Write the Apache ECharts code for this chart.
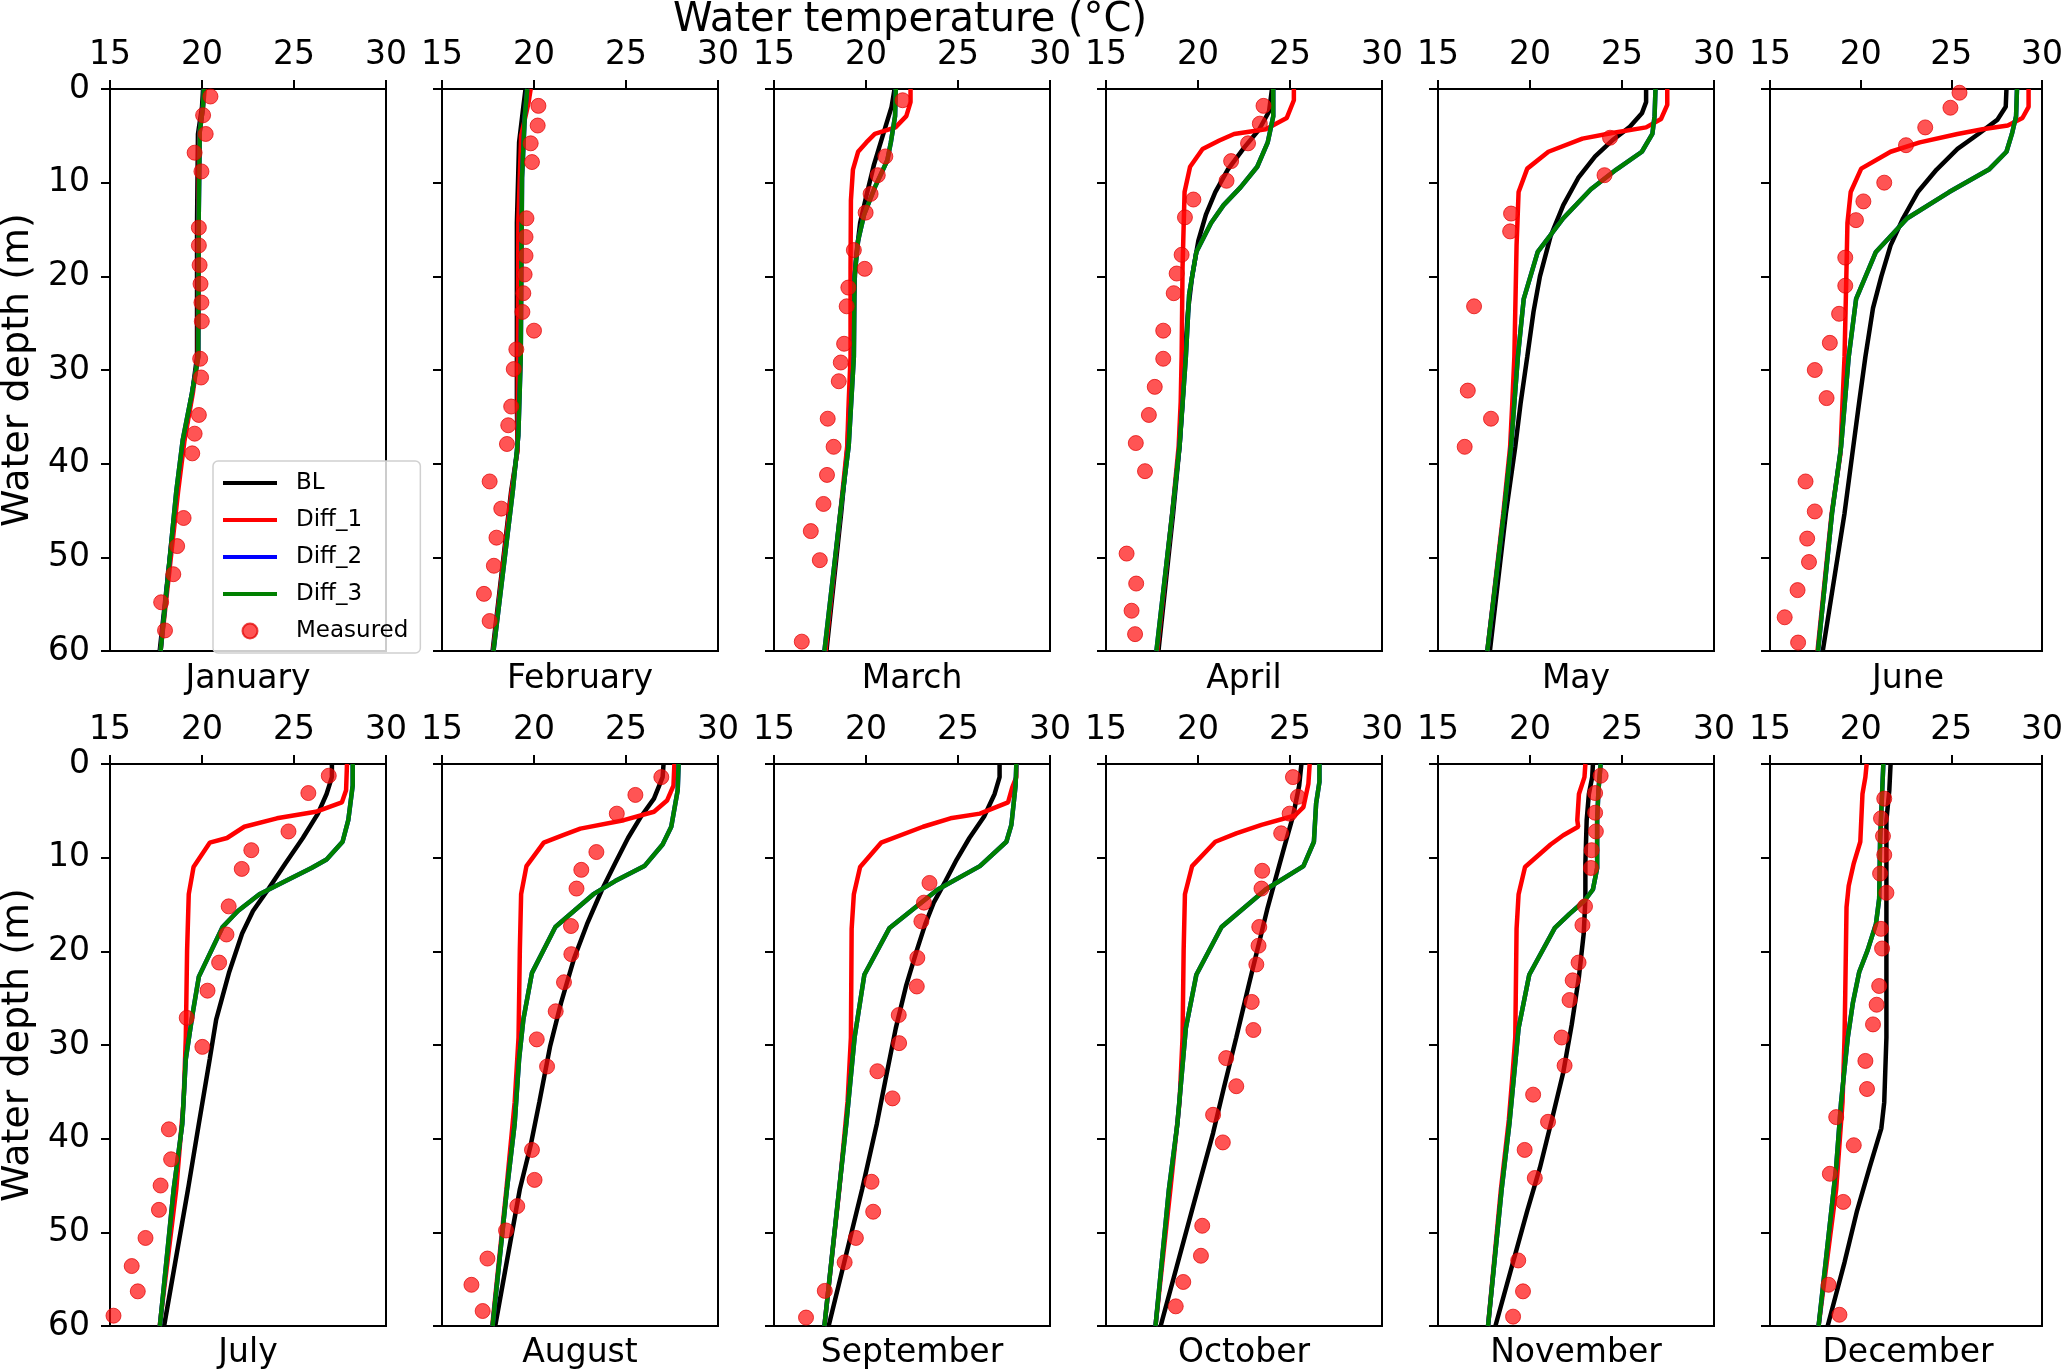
<!DOCTYPE html>
<html>
<head>
<meta charset="utf-8">
<script src="https://cdn.jsdelivr.net/npm/echarts@6/dist/echarts.min.js"></script>
<style>
html, body { margin: 0; padding: 0; background: #fff; }
#main { width: 2066px; height: 1370px; }
</style>
</head>
<body>
<div id="main"></div>
<script>
// each point is [temperature (C), depth (m)]
var monthNames = ['January', 'February', 'March', 'April', 'May', 'June',
    'July', 'August', 'September', 'October', 'November', 'December'];
var seriesNames = ['BL', 'Diff_1', 'Diff_2', 'Diff_3', 'Measured'];
var tempTicks = [15, 20, 25, 30];
var depthTicks = [0, 10, 20, 30, 40, 50, 60];

var janBL = [[20.06,0],[20.0,1.9],[19.78,4.8],[19.73,14.3],[19.73,28.6],[19.47,32.4],[19.0,37.7],[18.65,42.9],[17.7,60]];
var janD1 = [[20.15,0],[20.05,2],[19.85,5],[19.8,14],[19.78,28.5],[19.5,32.5],[19.05,37.5],[18.7,43],[17.75,60]];
var janD3 = [[20.1,0],[20.05,2],[19.88,4.5],[19.82,14],[19.8,28.6],[19.45,32.5],[18.95,37.5],[18.6,43],[17.75,60]];
var janObs = [[20.46,0.8],[20.06,2.8],[20.2,4.8],[19.6,6.8],[19.97,8.8],[19.83,14.8],[19.83,16.7],[19.87,18.8],[19.92,20.8],[19.97,22.8],[19.99,24.8],[19.9,28.8],[19.95,30.8],[19.83,34.8],[19.6,36.8],[19.47,38.9],[19.0,45.8],[18.65,48.8],[18.44,51.8],[17.78,54.8],[17.99,57.8]];

var febBL = [[19.54,0],[19.42,1.9],[19.19,5.7],[19.07,14.3],[19.07,33.4],[19.1,38.6],[18.76,42.9],[17.75,60]];
var febD1 = [[19.82,0],[19.7,1.5],[19.3,5],[19.15,14],[19.12,33],[19.1,38.6],[18.78,43],[17.78,60]];
var febD3 = [[19.63,0],[19.5,2.9],[19.35,9.5],[19.28,28.6],[19.15,37],[18.85,42.9],[17.8,60]];
var febObs = [[20.24,1.8],[20.2,3.9],[19.82,5.8],[19.89,7.8],[19.59,13.8],[19.54,15.8],[19.54,17.8],[19.49,19.8],[19.42,21.8],[19.37,23.8],[20.0,25.8],[19.04,27.8],[18.9,29.9],[18.76,33.9],[18.6,35.9],[18.53,37.9],[17.59,41.9],[18.22,44.8],[17.96,47.9],[17.82,50.9],[17.28,53.9],[17.59,56.8]];

var marBL = [[21.55,0],[21.39,1.9],[20.94,4.8],[20.43,8.1],[20.02,11.4],[19.68,14.3],[19.45,18.1],[19.29,23.8],[19.22,28.6],[19.1,33.4],[19.0,38.1],[18.65,45.3],[17.85,60]];
var marD1 = [[22.42,0],[22.42,1.4],[22.19,2.9],[21.6,4.1],[20.48,4.8],[20.02,5.7],[19.57,6.7],[19.29,8.6],[19.18,11.9],[19.16,19.1],[19.16,28.6],[19.06,33.4],[18.98,38.1],[18.6,45.3],[17.8,60]];
var marD3 = [[21.62,0],[21.58,2.9],[21.35,5.7],[21.16,7.6],[20.48,10.5],[19.9,13.4],[19.57,16.2],[19.38,20.0],[19.34,28.6],[19.06,38.1],[18.6,45.3],[17.74,60]];
var marObs = [[21.99,1.2],[21.05,7.2],[20.64,9.2],[20.25,11.2],[19.98,13.2],[19.34,17.2],[19.93,19.2],[19.04,21.2],[18.95,23.2],[18.81,27.2],[18.63,29.2],[18.52,31.2],[17.92,35.2],[18.24,38.2],[17.88,41.2],[17.69,44.3],[17.0,47.2],[17.49,50.3],[16.51,59.0]];

var aprBL = [[24.02,0],[23.86,2.4],[23.33,4.3],[22.53,6.2],[21.62,8.6],[20.94,11.0],[20.43,13.4],[20.02,16.2],[19.68,20.0],[19.45,23.8],[19.29,28.6],[19.16,33.4],[19.0,38.1],[18.65,45.3],[17.85,60]];
var aprD1 = [[25.21,0],[25.21,1.2],[24.82,3.1],[23.68,4.3],[21.96,4.8],[21.16,5.5],[20.25,6.4],[19.57,8.3],[19.27,11.0],[19.16,19.1],[19.11,28.6],[19.06,33.4],[18.95,38.1],[18.6,45.3],[17.78,60]];
var aprD3 = [[24.09,0],[24.09,2.9],[23.79,5.7],[23.22,8.3],[22.31,10.5],[21.39,12.4],[20.71,14.3],[19.91,17.4],[19.52,21.9],[19.34,28.6],[19.0,38.1],[18.6,45.3],[17.74,60]];
var aprObs = [[23.56,1.8],[23.36,3.7],[22.72,5.8],[21.8,7.7],[21.55,9.8],[19.75,11.8],[19.29,13.7],[19.11,17.7],[18.84,19.7],[18.68,21.8],[18.11,25.8],[18.11,28.8],[17.65,31.8],[17.33,34.8],[16.62,37.8],[17.12,40.8],[16.12,49.6],[16.64,52.8],[16.39,55.7],[16.58,58.2]];

var mayBL = [[26.31,0],[26.31,1.4],[26.08,2.6],[25.39,4.1],[24.46,5.5],[23.54,7.2],[22.62,9.5],[21.81,12.4],[21.12,15.7],[20.54,20.0],[20.19,23.8],[19.85,28.6],[19.5,33.4],[19.2,38.2],[18.69,45.3],[17.82,60]];
var mayD1 = [[27.46,0],[27.46,1.7],[27.12,3.2],[26.31,4.1],[24.46,4.7],[22.85,5.3],[21.0,6.7],[19.85,8.5],[19.38,11.0],[19.27,16.7],[19.15,28.6],[19.04,33.4],[18.92,38.2],[18.55,45.3],[17.68,60]];
var mayD3 = [[26.82,0],[26.77,2.9],[26.65,4.8],[26.08,6.7],[24.69,8.6],[23.31,10.7],[21.81,13.8],[20.42,17.4],[19.66,22.4],[19.34,28.6],[18.97,38.2],[18.58,45.3],[17.68,60]];
var mayObs = [[24.35,5.2],[24.05,9.2],[18.97,13.3],[18.92,15.2],[16.96,23.2],[16.62,32.2],[17.88,35.2],[16.45,38.2]];

var junBL = [[28.04,0],[28.0,1.9],[27.53,3.3],[26.49,4.8],[25.34,6.4],[24.19,8.6],[23.15,11.0],[22.34,13.8],[21.65,16.7],[21.14,20.0],[20.68,23.4],[20.26,28.6],[19.92,33.4],[19.53,39.1],[19.11,45.3],[17.91,60]];
var junD1 = [[29.26,0],[29.26,1.9],[28.92,3.1],[28.11,3.9],[26.72,4.3],[25.34,4.8],[23.26,5.7],[21.65,6.7],[20.03,8.5],[19.45,11.0],[19.27,14.3],[19.22,19.1],[19.11,28.6],[19.0,33.4],[18.88,39],[18.4,45.3],[17.62,60]];
var junD3 = [[28.62,0],[28.57,2.9],[28.34,4.8],[28.04,6.7],[27.07,8.6],[24.88,11.0],[22.57,13.8],[20.84,17.4],[19.75,22.4],[19.34,28.6],[18.92,38.2],[18.42,45.3],[17.65,60]];
var junObs = [[25.45,0.4],[24.95,2.0],[23.56,4.1],[22.5,6.0],[21.3,10.0],[20.15,12.0],[19.74,14.0],[19.15,18.0],[19.15,21.0],[18.81,24.0],[18.3,27.1],[17.47,30.0],[18.12,33.0],[16.96,41.9],[17.47,45.1],[17.05,48.0],[17.15,50.5],[16.52,53.5],[15.81,56.4],[16.55,59.1]];

var julBL = [[27.06,0],[27.06,1.4],[26.77,3.2],[26.3,5.3],[25.48,7.9],[24.54,10.6],[23.59,13.4],[22.77,15.7],[22.18,18.1],[21.48,22.2],[20.77,27.3],[20.42,31.5],[19.83,38.4],[19.24,45.4],[17.94,60]];
var julD1 = [[27.88,0],[27.83,2.8],[27.6,4.1],[26.18,5.1],[24.07,5.8],[22.3,6.7],[21.36,7.9],[20.42,8.4],[19.54,11.0],[19.28,13.9],[19.19,19.9],[19.12,29.2],[19.0,36],[18.6,45.4],[17.7,60]];
var julD3 = [[28.19,0],[28.19,2.3],[27.95,6.0],[27.64,8.3],[26.77,10.2],[25.95,11.1],[24.54,12.5],[23.12,13.9],[21.95,15.7],[21.12,17.4],[19.83,22.7],[19.47,26.9],[19.12,31.5],[18.93,38.4],[18.46,45.4],[17.71,60]];
var julObs = [[26.89,1.25],[25.78,3.1],[24.7,7.2],[22.68,9.2],[22.16,11.2],[21.45,15.2],[21.33,18.2],[20.93,21.2],[20.3,24.2],[19.17,27.1],[20.02,30.2],[18.2,39.0],[18.32,42.2],[17.75,45.0],[17.66,47.6],[16.93,50.6],[16.18,53.6],[16.51,56.3],[15.19,58.9]];

var augBL = [[27.04,0],[26.99,1.4],[26.52,3.7],[25.82,5.6],[25.11,7.9],[24.41,10.6],[23.7,13.4],[22.88,17.1],[22.17,20.8],[21.47,25.5],[20.88,30.1],[20.29,36.1],[19.82,40.7],[19.23,45.4],[17.89,60]];
var augD1 = [[27.63,0],[27.58,2.3],[27.23,3.9],[26.52,5.1],[24.88,6.0],[22.52,6.9],[21.58,7.6],[20.53,8.4],[19.59,10.9],[19.3,13.9],[19.23,19.9],[19.16,29.2],[18.95,36.1],[18.5,45.4],[17.73,60]];
var augD3 = [[27.86,0],[27.81,2.8],[27.46,6.7],[26.99,8.6],[26.0,10.9],[24.41,12.5],[23.23,13.9],[22.17,15.7],[21.16,17.4],[19.89,22.3],[19.42,27.3],[19.19,31.5],[18.95,38.4],[18.53,45.4],[17.75,60]];
var augObs = [[26.92,1.4],[25.51,3.3],[24.5,5.3],[23.39,9.4],[22.57,11.3],[22.31,13.3],[22.01,17.3],[22.03,20.3],[21.63,23.3],[21.18,26.4],[20.15,29.4],[20.71,32.3],[19.89,41.2],[20.03,44.4],[19.09,47.2],[18.48,49.8],[17.47,52.8],[16.6,55.6],[17.21,58.4]];

var sepBL = [[27.26,0],[27.26,1.4],[26.99,3.2],[26.42,5.6],[25.62,7.9],[24.93,10.2],[24.32,12.5],[23.68,14.8],[23.22,17.1],[22.76,19.9],[22.19,23.6],[21.62,28.2],[21.05,33.8],[20.59,38.4],[19.79,45.4],[17.97,60]];
var sepD1 = [[28.17,0],[28.17,1.4],[27.95,2.5],[27.72,4.1],[26.19,5.3],[24.59,5.8],[23.1,6.7],[20.82,8.4],[19.68,11.0],[19.34,13.9],[19.22,17.6],[19.18,29.2],[19.0,36],[18.55,45.4],[17.74,60]];
var sepD3 = [[28.17,0],[28.13,2.3],[27.9,6.5],[27.63,8.3],[26.19,10.9],[23.9,13.4],[21.28,17.5],[19.91,22.5],[19.38,29.2],[18.93,38.4],[18.54,45.4],[17.74,60]];
var sepObs = [[23.45,12.7],[23.15,14.8],[23.01,16.8],[22.79,20.7],[22.76,23.75],[21.78,26.8],[21.8,29.8],[20.62,32.8],[21.44,35.7],[20.3,44.6],[20.39,47.8],[19.45,50.6],[18.84,53.2],[17.76,56.25],[16.74,59.1]];

var octBL = [[25.62,0],[25.5,2.3],[25.16,5.6],[24.7,8.8],[24.25,12.0],[23.79,15.3],[23.33,19.0],[22.76,23.6],[22.08,29.2],[21.39,34.7],[20.82,39.4],[19.79,46.8],[17.97,60]];
var octD1 = [[26.07,0],[26.0,2.1],[25.73,4.6],[25.27,5.5],[23.45,6.5],[22.08,7.4],[20.94,8.3],[19.68,10.9],[19.29,13.9],[19.22,19.9],[19.16,29.2],[19.0,36],[18.5,45.4],[17.69,60]];
var octD3 = [[26.6,0],[26.6,1.9],[26.42,4.2],[26.3,8.3],[25.73,10.9],[23.68,13.4],[21.28,17.4],[19.91,22.5],[19.34,28.2],[18.88,38.4],[18.42,45.4],[17.69,60]];
var octObs = [[25.16,1.4],[25.43,3.5],[24.98,5.3],[24.52,7.4],[23.49,11.4],[23.45,13.3],[23.33,17.4],[23.29,19.4],[23.17,21.4],[22.92,25.4],[23.01,28.4],[21.53,31.4],[22.08,34.4],[20.82,37.45],[21.35,40.4],[20.23,49.3],[20.16,52.5],[19.2,55.3],[18.79,57.9]];

var novBL = [[23.42,0],[23.38,1.4],[23.2,3.2],[23.08,6.0],[23.01,10.6],[23.01,14.4],[22.92,18.1],[22.66,22.7],[22.27,27.8],[21.81,32.9],[21.19,37.95],[20.54,43.1],[19.85,47.7],[18.12,60]];
var novD1 = [[23.01,0],[22.96,1.4],[22.66,3.2],[22.57,6.0],[22.62,6.7],[21.81,7.6],[21.12,8.6],[19.73,11.0],[19.38,13.9],[19.27,17.6],[19.2,29.2],[19.04,33.4],[18.85,38],[18.42,45.4],[17.72,60]];
var novD3 = [[23.84,0],[23.72,2.8],[23.65,6.0],[23.65,11.1],[23.42,13.4],[22.96,14.6],[22.15,16.0],[21.35,17.5],[19.96,22.5],[19.38,28.2],[18.88,38.4],[18.46,45.4],[17.72,60]];
var novObs = [[23.84,1.25],[23.54,3.1],[23.54,5.2],[23.58,7.2],[23.35,9.2],[23.31,11.1],[22.99,15.2],[22.85,17.2],[22.64,21.2],[22.32,23.1],[22.15,25.2],[21.72,29.2],[21.88,32.2],[20.17,35.3],[20.98,38.2],[19.71,41.2],[20.26,44.2],[19.36,53.0],[19.62,56.3],[19.08,59.0]];

var decBL = [[21.65,0],[21.58,2.8],[21.42,6.0],[21.42,29.2],[21.3,36.1],[21.14,38.9],[20.49,43.1],[19.8,47.7],[19.11,53.2],[18.18,60]];
var decD1 = [[20.33,0],[20.26,1.4],[20.1,3.2],[19.98,8.3],[19.62,10.6],[19.34,13.0],[19.22,15.3],[19.15,24.5],[19.11,29.2],[19.0,36.1],[18.65,45.4],[17.68,60]];
var decD3 = [[21.25,0],[21.18,3.2],[21.07,8.3],[21.02,14.4],[20.84,17.1],[20.38,19.9],[19.92,22.2],[19.57,25.5],[19.29,29.2],[18.92,36.1],[18.65,43],[17.68,60]];
var decObs = [[21.3,3.7],[21.12,5.8],[21.23,7.7],[21.3,9.7],[21.07,11.7],[21.42,13.75],[21.12,17.6],[21.18,19.7],[21.02,23.7],[20.88,25.7],[20.68,27.8],[20.26,31.7],[20.35,34.7],[18.65,37.7],[19.62,40.7],[18.3,43.75],[19.04,46.75],[18.23,55.6],[18.83,58.8]];

// Diff_2 sits right under Diff_3 in every panel
var blList = [janBL, febBL, marBL, aprBL, mayBL, junBL, julBL, augBL, sepBL, octBL, novBL, decBL];
var d1List = [janD1, febD1, marD1, aprD1, mayD1, junD1, julD1, augD1, sepD1, octD1, novD1, decD1];
var d2List = [janD3, febD3, marD3, aprD3, mayD3, junD3, julD3, augD3, sepD3, octD3, novD3, decD3];
var d3List = [janD3, febD3, marD3, aprD3, mayD3, junD3, julD3, augD3, sepD3, octD3, novD3, decD3];
var obsList = [janObs, febObs, marObs, aprObs, mayObs, junObs, julObs, augObs, sepObs, octObs, novObs, decObs];

var chart = echarts.init(document.getElementById('main'), null, {renderer: 'canvas'});

var FONT = 'DejaVu Sans';
var lefts = [110, 442, 774, 1106, 1438, 1770];
var tops = [89, 764];
var W = 276, H = 562;
var colors = ['#000000', '#ff0000', '#0000ff', '#008000'];

var grids = [], xAxes = [], yAxes = [], series = [], graphics = [];

monthNames.forEach(function (name, i) {
    var left = lefts[i % 6], top = tops[Math.floor(i / 6)];
    grids.push({left: left, top: top, width: W, height: H, show: true,
        borderColor: '#000', borderWidth: 2, backgroundColor: 'transparent'});
    xAxes.push({
        gridIndex: i, type: 'value', position: 'top',
        min: tempTicks[0], max: tempTicks[tempTicks.length - 1], interval: 5,
        axisLine: {show: true, onZero: false, lineStyle: {color: '#000', width: 2}},
        axisTick: {show: true, length: 9, lineStyle: {color: '#000', width: 2}},
        axisLabel: {color: '#000', fontSize: 33, fontFamily: FONT, margin: 17},
        splitLine: {show: false}
    });
    yAxes.push({
        gridIndex: i, type: 'value', inverse: true,
        min: depthTicks[0], max: depthTicks[depthTicks.length - 1], interval: 10,
        axisLine: {show: true, onZero: false, lineStyle: {color: '#000', width: 2}},
        axisTick: {show: true, length: 9, lineStyle: {color: '#000', width: 2}},
        axisLabel: {show: i % 6 === 0, color: '#000', fontSize: 33, fontFamily: FONT, margin: 20},
        splitLine: {show: false}
    });

    [blList, d1List, d2List, d3List].forEach(function (list, k) {
        series.push({
            name: seriesNames[k], type: 'line', xAxisIndex: i, yAxisIndex: i,
            data: list[i], symbol: 'none', smooth: false,
            lineStyle: {color: colors[k], width: 4.5},
            itemStyle: {color: colors[k]},
            z: 2 + k
        });
    });
    series.push({
        name: 'Measured', type: 'scatter', xAxisIndex: i, yAxisIndex: i,
        data: obsList[i], symbol: 'circle', symbolSize: 15,
        itemStyle: {color: 'rgba(255,12,12,0.88)', borderColor: 'rgba(225,0,0,0.9)', borderWidth: 1},
        z: 7
    });

    graphics.push({
        type: 'text', x: left + W / 2, y: Math.floor(i / 6) === 0 ? 679 : 1353,
        style: {text: name, fill: '#000', fontSize: 33, fontFamily: FONT,
            textAlign: 'center', textVerticalAlign: 'middle'}
    });
});

graphics.push({
    type: 'text', x: 910, y: 21,
    style: {text: 'Water temperature (°C)', fill: '#000', fontSize: 40, fontFamily: FONT,
        textAlign: 'center', textVerticalAlign: 'middle'}
});
tops.forEach(function (t) {
    graphics.push({
        type: 'text', x: 18, y: t + H / 2, rotation: Math.PI / 2,
        style: {text: 'Water depth (m)', fill: '#000', fontSize: 38, fontFamily: FONT,
            textAlign: 'center', textVerticalAlign: 'middle'}
    });
});

var legendItems = seriesNames.map(function (n, k) {
    return k < 4 ? {name: n, itemStyle: {opacity: 0}} : {name: n};
});

var option = {
    animation: false,
    backgroundColor: '#fff',
    grid: grids,
    xAxis: xAxes,
    yAxis: yAxes,
    legend: {
        orient: 'vertical', left: 213, top: 461,
        data: legendItems,
        itemWidth: 54, itemHeight: 15, itemGap: 13,
        padding: [10, 12, 10, 8],
        borderColor: '#d0d0d0', borderWidth: 1.5, borderRadius: 5,
        backgroundColor: 'rgba(255,255,255,0.8)',
        selectedMode: false,
        lineStyle: {width: 4},
        textStyle: {color: '#000', fontSize: 23, fontFamily: FONT, lineHeight: 24, padding: [0, 0, 0, 14]}
    },
    graphic: graphics,
    series: series
};

chart.setOption(option);
</script>
</body>
</html>
